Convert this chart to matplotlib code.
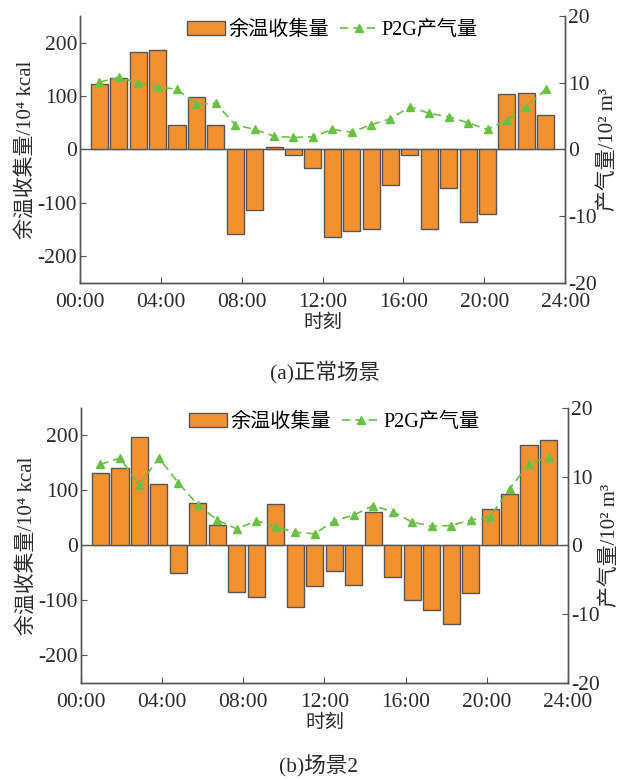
import matplotlib
matplotlib.use("Agg")
import matplotlib.pyplot as plt
import numpy as np

plt.rcParams['font.family'] = ['Liberation Serif', 'Noto Sans CJK SC']
plt.rcParams['axes.unicode_minus'] = False

# 数据
hours = np.arange(1, 25)
tick_pos = np.linspace(0, 25, 7)
tick_labels = ['00:00', '04:00', '08:00', '12:00', '16:00', '20:00', '24:00']

heat_a = [122, 133, 183, 186, 46, 98, 45, -159, -114, 5, -10, -34,
          -164, -153, -149, -66, -10, -149, -73, -135, -120, 103, 105, 64]
gas_a = [10.1, 10.8, 10.0, 9.4, 9.0, 6.8, 6.9, 3.7, 3.0, 2.0, 1.8, 1.9,
         3.0, 2.6, 3.7, 4.6, 6.4, 5.4, 4.9, 4.0, 3.0, 4.4, 6.3, 9.0]

heat_b = [131, 140, 197, 112, -50, 77, 38, -85, -94, 76, -111, -74,
          -47, -71, 61, -58, -99, -117, -143, -87, 67, 94, 183, 192]
gas_b = [11.8, 12.7, 8.8, 12.7, 9.1, 5.9, 3.7, 2.4, 3.6, 2.7, 1.9, 1.7,
         3.6, 4.4, 5.8, 4.9, 3.4, 2.8, 2.9, 3.7, 4.2, 8.2, 11.9, 12.8]

bar_color = '#f39131'
line_color = '#6abf45'
grey = '#555555'
txt = '#2a2a2a'
fs = 15.5

fig = plt.figure(figsize=(6.22, 7.80), dpi=100)


def panel(rect, heat, gas, caption, cap_x, cap_y):
    ax = fig.add_axes(rect)
    ax.bar(hours, heat, width=0.88, color=bar_color, edgecolor=grey,
           linewidth=1.0, label='余温收集量', zorder=2)
    ax.axhline(0, color=grey, linewidth=1.0, zorder=1)
    ax.set_xlim(0, 25)
    ax.set_ylim(-250, 250)
    ax.set_yticks([-200, -100, 0, 100, 200])
    ax.set_xticks(tick_pos)
    ax.set_xticklabels(tick_labels)
    ax.set_xlabel('时刻', fontsize=fs - 1.5, color=txt, labelpad=2)
    ax.set_ylabel('余温收集量/10⁴ kcal', fontsize=fs - 0.5, color=txt, labelpad=1)

    ax2 = ax.twinx()
    ax2.plot(hours, gas, '--', color=line_color, marker='^', markersize=5.5,
             linewidth=1.2, dashes=(5, 3), label='P2G产气量', zorder=3)
    ax2.set_ylim(-20, 20)
    ax2.set_yticks([-20, -10, 0, 10, 20])
    ax2.set_ylabel('产气量/10² m³', fontsize=fs - 0.5, color=txt, labelpad=1)

    for a in (ax, ax2):
        a.spines['top'].set_visible(False)
        for s in ('left', 'right', 'bottom'):
            a.spines[s].set_color(grey)
            a.spines[s].set_linewidth(1.0)
        a.tick_params(direction='in', labelsize=fs, colors=txt, length=4,
                      color=grey, pad=2)
    ax.tick_params(axis='x', pad=7)

    h1, l1 = ax.get_legend_handles_labels()
    h2, l2 = ax2.get_legend_handles_labels()
    ax.legend(h1 + h2, l1 + l2, loc='upper center', bbox_to_anchor=(0.52, 1.05),
              ncol=2, frameon=False, fontsize=fs - 1, handlelength=1.9,
              handletextpad=0.2, columnspacing=0.5)

    fig.text(cap_x, cap_y, caption, ha='center', va='center', fontsize=fs,
             color=txt)


panel([0.1286, 0.6372, 0.780, 0.3423], heat_a, gas_a, '(a)正常场景',
      325 / 622, 1 - 372 / 780)
panel([0.1302, 0.1244, 0.783, 0.3526], heat_b, gas_b, '(b)场景2',
      318 / 622, 1 - 766 / 780)

fig.savefig('out.png', dpi=100)
